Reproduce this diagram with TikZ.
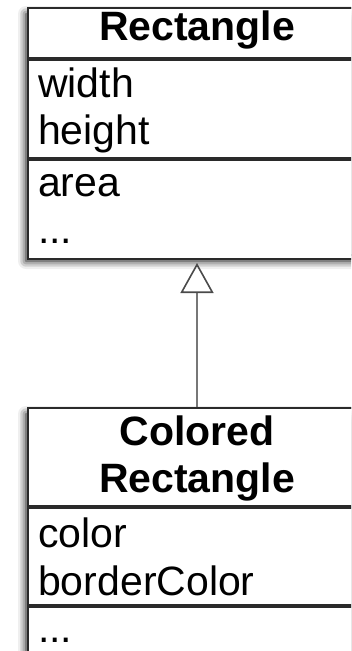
\documentclass[tikz,border=0pt]{standalone}
\usepackage{fontspec}
\setmainfont{Liberation Sans}
\usepackage{xcolor}
\usetikzlibrary{positioning,arrows.meta,shadows.blur}

\definecolor{boxline}{HTML}{2A2A2A}
\definecolor{linkgray}{HTML}{777777}
\definecolor{tipgray}{HTML}{4A4A4A}

\tikzset{
    classframe/.style={draw=boxline, line width=2pt, fill=white, minimum width=338pt, inner sep=0pt, anchor=north west,
        blur shadow={shadow xshift=-2pt, shadow yshift=-6pt, shadow blur radius=8pt, shadow opacity=100}},
    compart/.style={draw=boxline, line width=2pt, fill=white, minimum width=338pt, inner sep=0pt, anchor=north west},
    classname/.style={font=\bfseries\fontsize{41}{47}\selectfont, anchor=base, inner sep=0pt},
    member/.style={font=\fontsize{41}{47}\selectfont, anchor=base west, inner sep=0pt},
    inherit/.style={draw=linkgray, line width=2pt,
        -{Triangle[open, length=30pt, width=33pt, line width=1.6pt, color=tipgray]}}
}

\begin{document}
\begin{tikzpicture}[x=1pt,y=1pt]
    \useasboundingbox (0,0) rectangle (351,-651);
    \clip (0,0) rectangle (351,-651);

    % Rectangle class
    \node[classframe, minimum height=247pt] (rectframe) at (27,-7) {};
    \node[compart, minimum height=50pt] (recttitle) at (rectframe.north west) {};
    \node[compart, minimum height=98pt, below=0pt of recttitle] (rectattrs) {};
    \node[compart, minimum height=99pt, below=0pt of rectattrs] (rectops) {};
    \node[classname] (rectname) at ([yshift=-33pt]recttitle.north) {Rectangle};
    \node[member] (rectwidth) at ([xshift=11pt,yshift=-38pt]rectattrs.north west) {width};
    \node[member] (rectheight) at ([yshift=-47pt]rectwidth.base west) {height};
    \node[member] (rectarea) at ([xshift=11pt,yshift=-37pt]rectops.north west) {area};
    \node[member] (rectmore) at ([yshift=-47pt]rectarea.base west) {...};

    % Colored Rectangle class
    \node[classframe, minimum height=295pt] (crframe) at (27,-407) {};
    \node[compart, minimum height=98pt] (crtitle) at (crframe.north west) {};
    \node[compart, minimum height=97pt, below=0pt of crtitle] (crattrs) {};
    \node[compart, minimum height=100pt, below=0pt of crattrs] (crops) {};
    \node[classname] (crname) at ([yshift=-38pt]crtitle.north) {Colored};
    \node[classname] (crname2) at ([yshift=-47pt]crname.base) {Rectangle};
    \node[member] (crcolor) at ([xshift=11pt,yshift=-40pt]crattrs.north west) {color};
    \node[member] (crborder) at ([yshift=-48pt]crcolor.base west) {borderColor};
    \node[member] (crmore) at ([xshift=11pt,yshift=-36pt]crops.north west) {...};

    % generalisation
    \draw[inherit, shorten >=3pt] (crtitle.north) -- (rectops.south);
\end{tikzpicture}
\end{document}
